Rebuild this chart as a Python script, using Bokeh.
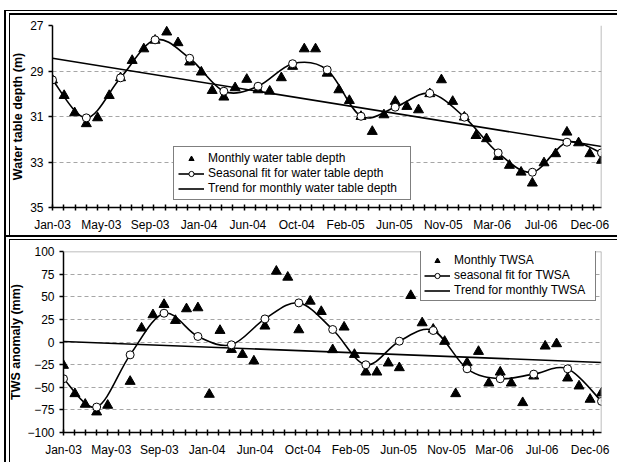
import datetime as dt

import numpy as np
from bokeh.embed import file_html
from bokeh.models import FixedTicker, Legend, LegendItem, Range1d, Span
from bokeh.plotting import figure
from bokeh.resources import INLINE

# ---------------------------------------------------------------- data
START = dt.date(2003, 1, 1)
month_dates = [dt.date(2003 + m // 12, m % 12 + 1, 1) for m in range(49)]  # Jan-03 .. Jan-07
month_day = [(d - START).days for d in month_dates]
fit_day = month_day[::3]
AXIS_END = month_day[-1]

tick_labels = ["Jan-03", "May-03", "Sep-03", "Jan-04", "Jun-04", "Oct-04",
               "Feb-05", "Jun-05", "Nov-05", "Mar-06", "Jul-06", "Dec-06"]
TICK_STEP = 130   # days between date labels
MINOR_STEP = 30   # days between tick marks

# monthly water table depth (m)
depth = [29.40, 30.08, 30.84, 31.32, 31.06, 30.08, 29.30, 28.54, 28.03, 27.65,
         27.29, 27.76, 28.61, 29.05, 29.86, 30.15, 29.74, 29.37, 29.83, 29.89,
         29.30, 28.80, 28.03, 28.03, 29.10, 29.83, 30.30, 31.00, 31.66, 30.93,
         30.34, 30.56, 30.71, 30.00, 29.39, 30.34, 31.03, 31.84, 31.98, 32.76,
         33.15, 33.45, 33.93, 33.04, 32.64, 31.69, 32.16, 32.64, 32.93]
# seasonal fit, every third month
depth_fit = [29.39, 31.06, 29.30, 27.63, 28.44, 29.89, 29.67, 28.68, 28.95,
             30.99, 30.59, 29.98, 31.03, 32.60, 33.45, 32.13, 32.60]
# linear trend at first / last month
depth_trend = [28.44, 32.32]

# monthly terrestrial water storage anomaly (mm); Jun-03 missing
tws = [-25.9, -57.2, -68.9, -77.4, -70.0, np.nan, -43.6, 15.3, 30.0, 41.4,
       23.7, 36.6, 37.7, -57.9, 12.7, -8.3, -13.8, -21.1, 17.5, 78.1,
       71.5, 13.4, 45.0, 33.6, -8.6, 16.4, -13.8, -33.3, -33.3, -23.3,
       -28.5, 51.3, 21.1, 14.0, 0.6, -57.2, -23.0, -10.5, -45.4, -33.3,
       -45.4, -67.1, -37.7, -4.6, -2.0, -39.9, -48.7, -63.4, -56.4]
tws_fit = [-40.6, -71.9, -14.2, 31.8, 6.1, -3.1, 25.5, 43.2, 13.8,
           -25.2, 0.9, 12.7, -29.6, -40.6, -35.5, -29.6, -65.6]
tws_trend = [0.6, -22.6]

FONT = "Liberation Sans"
GRID = "#a6a6a6"


def smooth_controls(xs, ys):
    """Cubic Bezier control points for a smoothed line through (xs, ys)."""
    n = len(xs)
    out = {k: [] for k in ("x0", "y0", "x1", "y1", "cx0", "cy0", "cx1", "cy1")}
    for k in range(n - 1):
        a = max(k - 1, 0)
        b = min(k + 2, n - 1)
        out["x0"].append(xs[k]); out["y0"].append(ys[k])
        out["x1"].append(xs[k + 1]); out["y1"].append(ys[k + 1])
        out["cx0"].append(xs[k] + (xs[k + 1] - xs[a]) / 6)
        out["cy0"].append(ys[k] + (ys[k + 1] - ys[a]) / 6)
        out["cx1"].append(xs[k + 1] - (xs[b] - xs[k]) / 6)
        out["cy1"].append(ys[k + 1] - (ys[b] - ys[k]) / 6)
    return out


def rules_css(rects):
    """Solid black rules (x, y, w, h in px) painted on the panel background."""
    return {
        "background-color": "#ffffff",
        "background-image": ", ".join("linear-gradient(#000, #000)" for _ in rects),
        "background-position": ", ".join(f"{x}px {y}px" for x, y, _, _ in rects),
        "background-size": ", ".join(f"{w}px {h}px" for _, _, w, h in rects),
        "background-repeat": "no-repeat",
    }


def make_panel(height, border, y_range, y_ticks, y_title, title_standoff, values, fit,
               trend, labels, legend_loc, legend_pad, legend_label_width, top_solid, rules):
    p = figure(width=617, height=height, output_backend="svg", toolbar_location=None,
               x_range=Range1d(0, AXIS_END), y_range=y_range,
               min_border_left=border[0], min_border_right=border[1],
               min_border_top=border[2], min_border_bottom=border[3],
               background_fill_color="white", border_fill_color=None,
               outline_line_color=None, styles=rules_css(rules))

    # x axis: date labels as major ticks (no marks), monthly crossing marks as minor ticks
    label_days = [TICK_STEP * k for k in range(len(tick_labels))]
    xa = p.xaxis[0]
    xa.ticker = FixedTicker(ticks=label_days,
                            minor_ticks=list(range(0, AXIS_END, MINOR_STEP)))
    xa.major_label_overrides = {d: t for d, t in zip(label_days, tick_labels)}
    xa.major_tick_in = 0
    xa.major_tick_out = 0
    xa.minor_tick_in = 3
    xa.minor_tick_out = 3
    xa.minor_tick_line_color = "black"
    xa.minor_tick_line_width = 1.5
    xa.major_label_standoff = 7

    ya = p.yaxis[0]
    ya.ticker = FixedTicker(ticks=y_ticks, minor_ticks=[])
    ya.major_tick_in = 0
    ya.major_tick_out = 4
    ya.major_tick_line_width = 1.5
    ya.minor_tick_line_color = None
    ya.major_label_standoff = 5
    ya.axis_label = y_title
    ya.axis_label_standoff = title_standoff
    ya.axis_label_text_font_style = "bold"
    ya.axis_label_text_font_size = "12.5px"

    for ax in (xa, ya):
        ax.axis_line_color = "black"
        ax.axis_line_width = 1.5
        ax.major_tick_line_color = "black"
        ax.major_label_text_font = FONT
        ax.major_label_text_font_size = "12px"
        ax.major_label_text_color = "black"
        ax.axis_label_text_font = FONT
        ax.axis_label_text_color = "black"

    p.xgrid.grid_line_color = None
    p.ygrid.grid_line_color = GRID
    p.ygrid.grid_line_dash = "4 3"
    p.ygrid.grid_line_width = 1

    p.add_layout(Span(location=AXIS_END, dimension="height",
                      line_color=GRID, line_width=1.5))
    if top_solid:
        p.add_layout(Span(location=y_range.end, dimension="width",
                          line_color=GRID, line_width=1.5))

    # trend
    r_trend = p.line([month_day[0], month_day[-1]], trend,
                     line_color="black", line_width=1.6)
    # seasonal fit curve and its points
    r_curve = p.bezier(source=smooth_controls(fit_day, fit), x0="x0", y0="y0",
                       x1="x1", y1="y1", cx0="cx0", cy0="cy0", cx1="cx1", cy1="cy1",
                       line_color="black", line_width=1.6)
    # monthly values
    r_tri = p.scatter(month_day, values, marker="triangle", size=10,
                      fill_color="black", line_color="black")
    r_fit = p.scatter(fit_day, fit, marker="circle", size=8,
                      fill_color="white", line_color="black", line_width=1)

    legend = Legend(items=[LegendItem(label=labels[0], renderers=[r_tri]),
                           LegendItem(label=labels[1], renderers=[r_curve, r_fit]),
                           LegendItem(label=labels[2], renderers=[r_trend])],
                    location=legend_loc, padding=legend_pad, margin=0, spacing=1,
                    label_height=13, glyph_height=13, glyph_width=26,
                    label_standoff=4, label_width=legend_label_width,
                    label_text_font=FONT, label_text_font_size="12px",
                    label_text_color="black",
                    border_line_color="black", border_line_width=1,
                    background_fill_color="white", background_fill_alpha=1.0)
    p.add_layout(legend, "center")
    return p


top = make_panel(238, (52, 16, 25, 31), Range1d(35, 27), [27, 29, 31, 33, 35],
                 "Water table depth (m)", 2, depth, depth_fit, depth_trend,
                 ["Monthly water table depth", "Seasonal fit for water table depth",
                  "Trend for monthly water table depth"],
                 (121, 7), 4, 198, False,
                 [(4, 10, 613, 1), (9, 13, 608, 2), (4, 10, 2, 228),
                  (9, 13, 1, 222), (4, 235, 613, 2)])
bottom = make_panel(224, (63, 16, 13, 30), Range1d(-100, 100),
                    list(range(-100, 101, 25)), "TWS anomaly (mm)", 1,
                    tws, tws_fit, tws_trend,
                    ["Monthly TWSA", "seasonal fit for TWSA", "Trend for monthly TWSA"],
                    (357, 131), 3, 138, True,
                    [(9, 1, 608, 1), (4, 0, 2, 224), (9, 1, 1, 223)])

# the two panels are separate roots so each keeps its own frame position
open("out.html", "w").write(file_html([top, bottom], INLINE))
